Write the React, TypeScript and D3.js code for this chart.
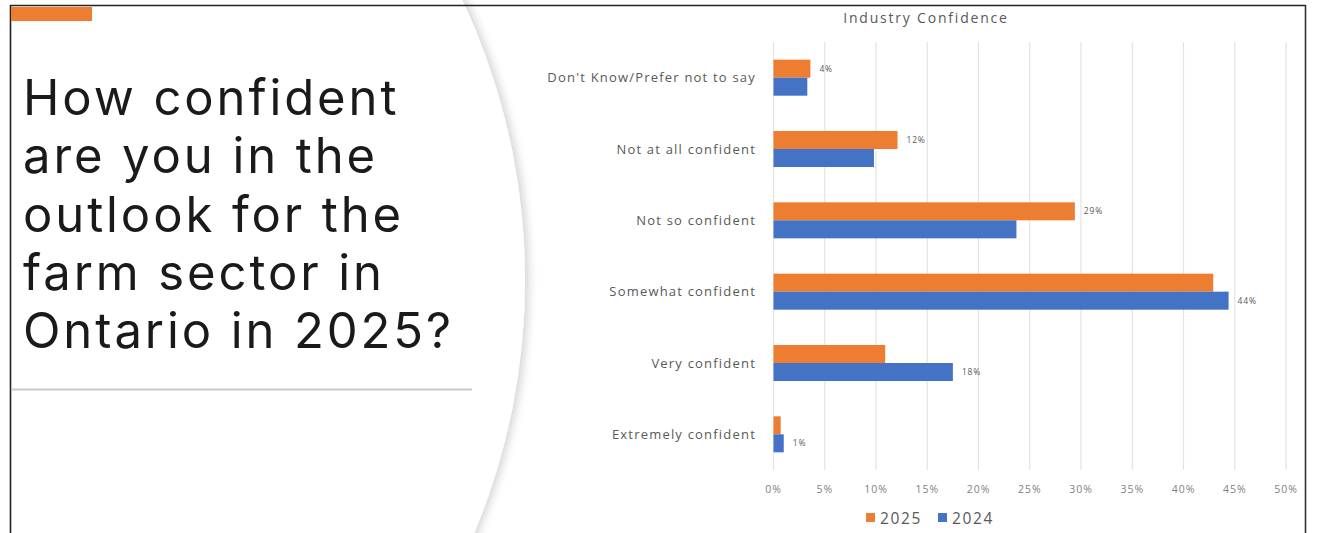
import React from "react";
import * as d3 from "d3";

const categories = [
  "Don't Know/Prefer not to say",
  "Not at all confident",
  "Not so confident",
  "Somewhat confident",
  "Very confident",
  "Extremely confident",
];
const seriesNames = ["2025", "2024"];
const values2025 = [3.6, 12.1, 29.4, 42.9, 10.9, 0.7];
const values2024 = [3.3, 9.8, 23.7, 44.4, 17.5, 1.0];
const dataLabels = ["4%", "12%", "29%", "44%", "18%", "1%"];
const dataLabelSeries = ["2025", "2025", "2025", "2024", "2024", "2024"];
const xTicks = [0, 5, 10, 15, 20, 25, 30, 35, 40, 45, 50];
const titleLines = [
  "How confident",
  "are you in the",
  "outlook for the",
  "farm sector in",
  "Ontario in 2025?",
];
const chartTitle = "Industry Confidence";

const COLORS: Record<string, string> = { "2025": "#ED7D31", "2024": "#4472C4" };
const W = 1322;
const H = 533;
const chartFont = "'Open Sans', 'Liberation Sans', sans-serif";

export default function App() {
  const x = d3.scaleLinear().domain([0, 50]).range([773.5, 1286]);
  const y = d3
    .scaleBand<string>()
    .domain(categories)
    .range([42, 470])
    .paddingInner(0.495)
    .paddingOuter(0.2475);
  const ys = d3.scaleBand<string>().domain(seriesNames).range([0, y.bandwidth()]);
  const valuesBy: Record<string, number[]> = { "2025": values2025, "2024": values2024 };

  // big arc
  const cx = -131, cy = 280, R = 656;
  const arcPath = d3.path();
  arcPath.arc(cx, cy, R, 0, Math.PI * 2);

  return (
    <svg
      width={W}
      height={H}
      style={{ position: "absolute", left: 0, top: 0, background: "#fff" }}
    >
      <defs>
        <filter id="sh" x="-10%" y="-10%" width="130%" height="130%">
          <feDropShadow dx="4" dy="0" stdDeviation="4" floodColor="#000" floodOpacity="0.16" />
        </filter>
      </defs>
      <rect x={0} y={0} width={W} height={H} fill="#fff" />
      <path d={arcPath.toString()} fill="#fff" filter="url(#sh)" />

      {/* frame */}
      <line x1={10.5} y1={5} x2={10.5} y2={H} stroke="#222" strokeWidth={1.6} />
      <line x1={10} y1={5.5} x2={1306} y2={5.5} stroke="#222" strokeWidth={1.6} />
      <line x1={1305.5} y1={5} x2={1305.5} y2={H} stroke="#333" strokeWidth={1.6} />

      {/* accent */}
      <rect x={11} y={7} width={81} height={14} fill="#ED7D31" />

      {/* title */}
      {titleLines.map((t, i) => (
        <text
          key={i}
          x={23}
          y={115 + i * 58.3}
          fontFamily="Inter, 'Open Sans', sans-serif"
          fontSize={49}
          letterSpacing={2.9}
          fill="#1a1a1a"
        >
          {t}
        </text>
      ))}
      <line x1={11} y1={389.5} x2={472} y2={389.5} stroke="#c8c8c8" strokeWidth={2} />

      {/* chart title */}
      <text
        x={926}
        y={23}
        textAnchor="middle"
        fontFamily={chartFont}
        fontSize={14}
        letterSpacing={1.8}
        fill="#595959"
      >
        {chartTitle}
      </text>

      {/* gridlines */}
      {xTicks.map((t) => (
        <line key={t} x1={x(t)} x2={x(t)} y1={42} y2={470} stroke="#e3e3e3" strokeWidth={1.2} />
      ))}
      {xTicks.map((t) => (
        <text
          key={"t" + t}
          x={x(t)}
          y={493}
          textAnchor="middle"
          fontFamily={chartFont}
          fontSize={10.5}
          letterSpacing={1}
          fill="#7f7f7f"
        >
          {t + "%"}
        </text>
      ))}

      {/* bars */}
      {categories.map((c, i) => (
        <g key={c}>
          {seriesNames.map((s) => (
            <rect
              key={s}
              x={x(0)}
              y={(y(c) as number) + (ys(s) as number)}
              width={x(valuesBy[s][i]) - x(0)}
              height={ys.bandwidth()}
              fill={COLORS[s]}
            />
          ))}
          <text
            x={x(valuesBy[dataLabelSeries[i]][i]) + 9}
            y={(y(c) as number) + (ys(dataLabelSeries[i]) as number) + ys.bandwidth() / 2}
            dy="0.35em"
            fontFamily={chartFont}
            fontSize={8.5}
            letterSpacing={0.8}
            fill="#595959"
          >
            {dataLabels[i]}
          </text>
          <text
            x={756}
            y={(y(c) as number) + y.bandwidth() / 2}
            dy="0.35em"
            textAnchor="end"
            fontFamily={chartFont}
            fontSize={13}
            letterSpacing={1.2}
            fill="#595959"
          >
            {c}
          </text>
        </g>
      ))}

      {/* legend */}
      {seriesNames.map((s, i) => (
        <g key={s} transform={`translate(${866 + i * 72},0)`}>
          <rect x={0} y={513} width={9} height={9} fill={COLORS[s]} />
          <text x={14} y={524} fontFamily={chartFont} fontSize={15.5} letterSpacing={1.6} fill="#595959">
            {s}
          </text>
        </g>
      ))}
    </svg>
  );
}
